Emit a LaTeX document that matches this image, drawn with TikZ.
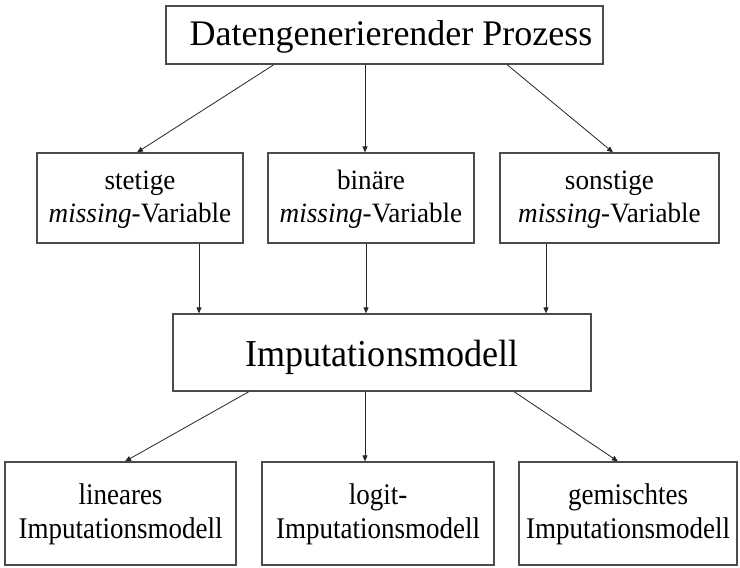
\documentclass[tikz,border=0pt]{standalone}
\usepackage{fontspec}
\setmainfont{Liberation Serif}
\newfontfamily\midfont[FakeStretch=0.97]{Liberation Serif}
\newfontfamily\lowfont[FakeStretch=0.9]{Liberation Serif}
\newfontfamily\impfont[FakeStretch=0.95]{Liberation Serif}
\usetikzlibrary{arrows.meta}

\begin{document}
\begin{tikzpicture}[x=1pt,y=-1pt,
  box/.style={draw=black!70, line width=1.2pt, inner sep=0pt},
  conn/.style={draw=black!85, line width=0.8pt, -{Triangle[length=6pt,width=5pt]}},
  txt/.style={inner sep=0pt, align=center},
  midtxt/.style={txt, font=\midfont\fontsize{28}{33}\selectfont},
  lowtxt/.style={txt, font=\lowfont\fontsize{30}{34}\selectfont}
]
\useasboundingbox[fill=white] (0,0) rectangle (740,568);

% boxes
\node[box, minimum width=437pt, minimum height=58pt] (top) at (384.5,35) {};
\node[box, minimum width=206pt, minimum height=90pt] (cont) at (140,198) {};
\node[box, minimum width=206pt, minimum height=90pt] (bin) at (371,198) {};
\node[box, minimum width=219pt, minimum height=90pt] (oth) at (609.5,198) {};
\node[box, minimum width=418pt, minimum height=77pt] (imp) at (382,352.5) {};
\node[box, minimum width=231pt, minimum height=103pt] (lin) at (120.5,513.5) {};
\node[box, minimum width=232pt, minimum height=103pt] (logit) at (378,513.5) {};
\node[box, minimum width=218pt, minimum height=103pt] (mix) at (628,513.5) {};

% texts
\node[txt, font=\fontsize{36}{43}\selectfont] (topT) at ([xshift=6.5pt,yshift=-2pt]top.center) {Datengenerierender Prozess};
\node[midtxt] (contT) at ([yshift=-1.5pt]cont.center) {stetige\\\textit{missing}-Variable};
\node[midtxt] (binT) at ([yshift=-1.5pt]bin.center) {binäre\\\textit{missing}-Variable};
\node[midtxt] (othT) at ([yshift=-1.5pt]oth.center) {sonstige\\\textit{missing}-Variable};
\node[txt, font=\impfont\fontsize{38}{44}\selectfont] (impT) at ([yshift=-4.5pt]imp.center) {Imputationsmodell};
\node[lowtxt] (linT) at ([yshift=-1pt]lin.center) {lineares\\Imputationsmodell};
\node[lowtxt] (logitT) at ([yshift=-1pt]logit.center) {logit-\\Imputationsmodell};
\node[lowtxt] (mixT) at ([yshift=-1pt]mix.center) {gemischtes\\Imputationsmodell};

% connectors
\draw[conn] ([xshift=-110.5pt]top.south) -- ([xshift=-3pt]cont.north);
\draw[conn] ([xshift=-19.5pt]top.south) -- ([xshift=-6pt]bin.north);
\draw[conn] ([xshift=122.5pt]top.south) -- ([xshift=3.5pt]oth.north);

\draw[conn] ([xshift=59pt]cont.south) -- ([xshift=-183pt]imp.north);
\draw[conn] ([xshift=-5pt]bin.south) -- ([xshift=-16pt]imp.north);
\draw[conn] ([xshift=-63.5pt]oth.south) -- ([xshift=164pt]imp.north);

\draw[conn] ([xshift=-133pt]imp.south) -- ([xshift=4.5pt]lin.north);
\draw[conn] ([xshift=-17pt]imp.south) -- ([xshift=-13pt]logit.north);
\draw[conn] ([xshift=132pt]imp.south) -- ([xshift=-10pt]mix.north);
\end{tikzpicture}
\end{document}
